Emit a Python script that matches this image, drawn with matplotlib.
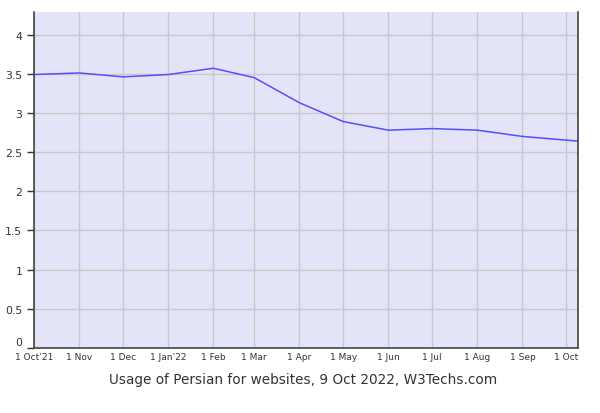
import matplotlib
matplotlib.use("Agg")
import matplotlib.pyplot as plt
import matplotlib.dates as mdates
import matplotlib.transforms as mtransforms
from datetime import date

# monthly readings, Oct 2021 - Oct 2022
dates = [date(2021, 10, 1), date(2021, 11, 1), date(2021, 12, 1), date(2022, 1, 1),
         date(2022, 2, 1), date(2022, 3, 1), date(2022, 4, 1), date(2022, 5, 1),
         date(2022, 6, 1), date(2022, 7, 1), date(2022, 8, 1), date(2022, 9, 1),
         date(2022, 10, 9)]
usage = [3.49, 3.51, 3.46, 3.49, 3.57, 3.45, 3.13, 2.89, 2.78, 2.80, 2.78, 2.70, 2.64]

tick_dates = [date(2021, 10, 1), date(2021, 11, 1), date(2021, 12, 1), date(2022, 1, 1),
              date(2022, 2, 1), date(2022, 3, 1), date(2022, 4, 1), date(2022, 5, 1),
              date(2022, 6, 1), date(2022, 7, 1), date(2022, 8, 1), date(2022, 9, 1),
              date(2022, 10, 1)]
tick_labels = ["1 Oct\u201921", "1 Nov", "1 Dec", "1 Jan\u201922", "1 Feb", "1 Mar", "1 Apr",
               "1 May", "1 Jun", "1 Jul", "1 Aug", "1 Sep", "1 Oct"]
y_ticks = [0, 0.5, 1, 1.5, 2, 2.5, 3, 3.5, 4]
y_labels = ["0", "0.5", "1", "1.5", "2", "2.5", "3", "3.5", "4"]

fig = plt.figure(figsize=(6, 4.14), dpi=100)
ax = fig.add_axes([0.057, 0.157, 0.906, 0.812])
ax.set_facecolor("#e4e4f8")

ax.plot(dates, usage, color="#5050ff", linewidth=1.1)

ax.set_xlim(date(2021, 10, 1), date(2022, 10, 9))
ax.set_ylim(0, 4.29)
ax.set_xticks(tick_dates)
ax.set_xticklabels(tick_labels, fontsize=6.5)
ax.set_yticks(y_ticks)
ax.set_yticklabels(y_labels, fontsize=7.8, color="#333333")
ax.grid(True, color="#c8c8c8", linewidth=1)
ax.set_axisbelow(True)

ax.tick_params(axis="x", length=0, pad=3, colors="#333333")
ax.tick_params(axis="y", length=5, width=1, direction="out", colors="#333333")

# raise the "0" label so it clears the first date label
zero_lbl = ax.get_yticklabels()[0]
zero_lbl.set_transform(zero_lbl.get_transform() +
                       mtransforms.ScaledTranslation(0, 5 / 72, fig.dpi_scale_trans))

for s in ["left", "bottom", "right"]:
    ax.spines[s].set_color("#444444")
    ax.spines[s].set_linewidth(1.2)
ax.spines["top"].set_visible(False)

fig.text(0.505, 0.073, "Usage of Persian for websites, 9 Oct 2022, W3Techs.com",
         ha="center", fontsize=9.8, color="#333333")

fig.savefig("out.png", dpi=100)
